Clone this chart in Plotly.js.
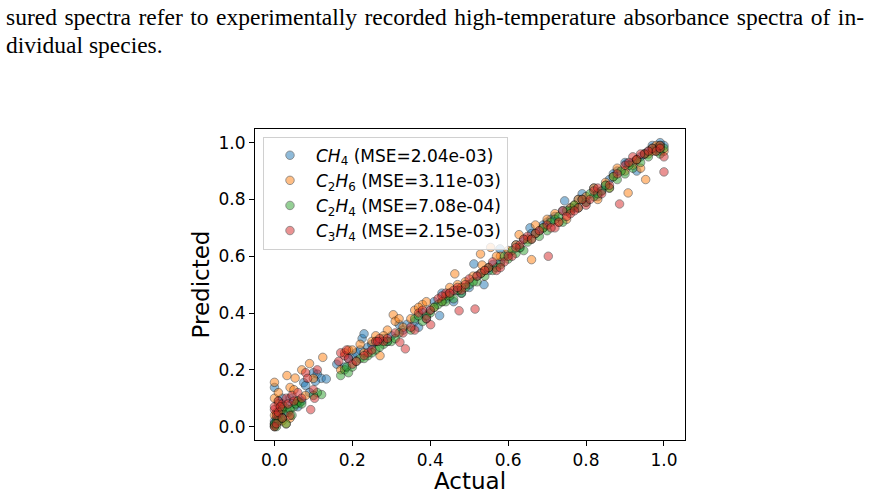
<!DOCTYPE html>
<html>
<head>
<meta charset="utf-8">
<script src="https://cdn.plot.ly/plotly-3.0.1.min.js"></script>
<style>
  html, body { margin: 0; padding: 0; background: #fff; }
  #chart { width: 876px; height: 494px; }
</style>
</head>
<body>
<div id="chart"></div>
<script>
// Actual vs. predicted mole fractions for each species
const ch4Actual = [0.0,0.0,0.005,0.01,0.015,0.02,0.03,0.045,0.06,0.075,0.08,0.1,0.11,0.12,0.133,0.105,
  0.16,0.18,0.2,0.21,0.225,0.23,0.24,0.26,0.28,0.3,0.32,0.33,0.36,0.37,0.38,0.4,0.424,0.43,0.44,0.46,0.48,
  0.5,0.512,0.538,0.55,0.579,0.6,0.62,0.64,0.656,0.68,0.7,0.72,0.745,0.76,0.78,0.8,0.82,0.84,0.86,0.88,
  0.904,0.92,0.94,0.96,0.98,1.0,0.99,
  0.0,0.01,0.02,0.04,0.07,0.09,0.19,0.22,0.25,0.27,0.29,0.34,0.39,0.41,0.45,0.47,0.52,0.56,0.58,0.63,
  0.66,0.69,0.71,0.74,0.77,0.79,0.83,0.85,0.87,0.9,0.93,0.95,0.97,0.99];
const ch4Pred = [0.138,0.01,0.03,0.09,0.06,0.1,0.05,0.08,0.07,0.155,0.145,0.19,0.185,0.17,0.168,0.16,
  0.22,0.21,0.25,0.26,0.31,0.327,0.28,0.3,0.31,0.32,0.36,0.34,0.37,0.35,0.4,0.41,0.391,0.47,0.45,0.44,0.47,
  0.49,0.573,0.5,0.55,0.626,0.61,0.64,0.66,0.7,0.69,0.72,0.74,0.795,0.77,0.8,0.79,0.84,0.83,0.87,0.9,
  0.926,0.93,0.95,0.97,0.98,0.99,0.97,
  0.02,0.04,0.07,0.1,0.09,0.12,0.24,0.27,0.29,0.3,0.3,0.36,0.38,0.44,0.47,0.48,0.53,0.57,0.58,0.63,
  0.68,0.71,0.73,0.76,0.77,0.82,0.81,0.85,0.89,0.93,0.9,0.96,0.99,1.0];

const c2h6Actual = [0.0,0.0,0.005,0.01,0.02,0.03,0.032,0.04,0.053,0.06,0.07,0.09,0.1,0.124,
  0.17,0.18,0.19,0.22,0.25,0.271,0.29,0.305,0.31,0.33,0.36,0.38,0.41,0.44,0.463,0.47,0.49,0.529,0.533,
  0.555,0.58,0.6,0.628,0.66,0.67,0.69,0.72,0.75,0.77,0.8,0.83,0.85,0.87,0.908,0.9,0.93,0.953,0.96,0.98,1.0,
  0.0,0.01,0.02,0.04,0.05,0.08,0.2,0.23,0.26,0.28,0.32,0.35,0.37,0.39,0.43,0.45,0.48,0.51,0.54,0.57,
  0.62,0.65,0.7,0.73,0.76,0.78,0.82,0.86,0.88,0.92,0.94,0.97,0.99];
const c2h6Pred = [0.156,0.1,0.05,0.08,0.02,0.01,0.18,0.138,0.171,0.09,0.2,0.222,0.17,0.244,
  0.2,0.26,0.27,0.29,0.3,0.25,0.34,0.394,0.371,0.35,0.41,0.43,0.42,0.46,0.538,0.5,0.51,0.608,0.569,
  0.631,0.6,0.62,0.676,0.588,0.71,0.7,0.75,0.73,0.78,0.81,0.8,0.86,0.88,0.823,0.9,0.94,0.87,0.96,0.99,0.97,
  0.04,0.12,0.06,0.03,0.13,0.11,0.27,0.26,0.32,0.32,0.38,0.38,0.42,0.44,0.44,0.49,0.49,0.53,0.55,0.6,
  0.64,0.66,0.73,0.72,0.77,0.8,0.84,0.84,0.91,0.92,0.91,0.97,0.98];

const c2h4Actual = [0.0,0.0,0.005,0.01,0.015,0.02,0.03,0.035,0.05,0.06,0.065,0.121,0.11,
  0.17,0.18,0.19,0.2,0.22,0.24,0.26,0.28,0.3,0.32,0.35,0.36,0.38,0.4,0.42,0.44,0.46,0.48,0.5,0.52,0.54,
  0.56,0.58,0.6,0.62,0.64,0.66,0.68,0.7,0.72,0.74,0.76,0.78,0.8,0.82,0.84,0.86,0.88,0.9,0.92,0.94,0.96,
  0.98,1.0,0.99,
  0.0,0.005,0.01,0.02,0.025,0.04,0.045,0.055,0.07,0.1,0.185,0.21,0.23,0.25,0.27,0.29,0.31,0.37,0.39,
  0.41,0.43,0.45,0.47,0.49,0.51,0.53,0.55,0.57,0.59,0.61,0.63,0.65,0.67,0.69,0.71,0.73,0.75,0.77,0.79,
  0.81,0.83,0.85,0.87,0.89,0.91,0.93,0.95,0.97,0.99];
const c2h4Pred = [0.0,0.005,0.02,0.04,0.03,0.06,0.01,0.05,0.07,0.09,0.085,0.113,0.12,
  0.18,0.2,0.19,0.21,0.24,0.25,0.27,0.29,0.3,0.33,0.34,0.38,0.37,0.4,0.43,0.44,0.45,0.47,0.5,0.51,0.53,
  0.55,0.57,0.59,0.61,0.62,0.66,0.67,0.69,0.73,0.72,0.76,0.77,0.79,0.81,0.83,0.84,0.87,0.89,0.91,0.93,0.95,
  0.97,0.98,0.96,
  0.01,0.0,0.02,0.03,0.07,0.06,0.04,0.08,0.08,0.11,0.21,0.23,0.24,0.26,0.28,0.3,0.31,0.39,0.39,
  0.42,0.44,0.46,0.48,0.49,0.51,0.54,0.56,0.56,0.6,0.62,0.63,0.65,0.68,0.7,0.72,0.74,0.76,0.78,0.8,
  0.82,0.82,0.85,0.88,0.9,0.92,0.94,0.96,0.98,0.99];

const c3h4Actual = [0.0,0.0,0.005,0.01,0.02,0.03,0.04,0.045,0.06,0.08,0.093,0.103,0.11,0.1,
  0.165,0.18,0.19,0.2,0.24,0.26,0.28,0.27,0.322,0.336,0.33,0.36,0.37,0.39,0.401,0.4,0.44,0.46,0.474,0.48,
  0.515,0.5,0.53,0.55,0.57,0.59,0.61,0.63,0.65,0.67,0.703,0.7,0.72,0.74,0.76,0.78,0.8,0.82,0.86,0.886,
  0.9,0.92,0.95,0.97,0.99,1.0,1.0,
  0.0,0.005,0.01,0.015,0.02,0.035,0.05,0.07,0.085,0.17,0.185,0.21,0.23,0.25,0.265,0.29,0.31,0.35,0.38,
  0.42,0.43,0.45,0.47,0.49,0.52,0.54,0.56,0.58,0.6,0.62,0.64,0.66,0.68,0.71,0.73,0.75,0.77,0.79,0.81,
  0.83,0.84,0.88,0.91,0.93,0.94,0.96,0.98,0.99];
const c3h4Pred = [0.06,0.07,0.04,0.09,0.08,0.1,0.04,0.11,0.12,0.19,0.06,0.1,0.2,0.13,
  0.23,0.25,0.24,0.22,0.26,0.3,0.3,0.31,0.297,0.274,0.33,0.34,0.4,0.38,0.359,0.41,0.47,0.48,0.408,0.48,
  0.414,0.52,0.54,0.56,0.55,0.58,0.6,0.64,0.67,0.68,0.6,0.71,0.7,0.76,0.75,0.77,0.78,0.83,0.85,0.784,
  0.92,0.95,0.96,0.98,0.99,0.897,0.95,
  0.0,0.01,0.05,0.07,0.03,0.08,0.09,0.1,0.17,0.26,0.27,0.23,0.25,0.27,0.3,0.31,0.33,0.35,0.41,
  0.45,0.46,0.47,0.49,0.5,0.53,0.55,0.58,0.56,0.6,0.63,0.66,0.66,0.69,0.7,0.72,0.74,0.76,0.8,0.8,
  0.84,0.82,0.89,0.93,0.94,0.96,0.97,0.97,0.98];

const seriesNames = [
  '<i>CH</i><sub>4</sub> (MSE=2.04e-03)',
  '<i>C</i><sub>2</sub><i>H</i><sub>6</sub> (MSE=3.11e-03)',
  '<i>C</i><sub>2</sub><i>H</i><sub>4</sub> (MSE=7.08e-04)',
  '<i>C</i><sub>3</sub><i>H</i><sub>4</sub> (MSE=2.15e-03)'
];
const seriesColors = ['#1f77b4', '#ff7f0e', '#2ca02c', '#d62728'];
const actualSets = [ch4Actual, c2h6Actual, c2h4Actual, c3h4Actual];
const predSets = [ch4Pred, c2h6Pred, c2h4Pred, c3h4Pred];

const tickValues = [0, 0.2, 0.4, 0.6, 0.8, 1.0];
const tickLabels = ['0.0', '0.2', '0.4', '0.6', '0.8', '1.0'];

const captionLine1 = 'sured spectra refer to experimentally recorded high-temperature absorbance spectra of in-';
const captionLine2 = 'dividual species.';

const traces = actualSets.map((xs, i) => ({
  type: 'scatter',
  mode: 'markers',
  x: xs,
  y: predSets[i],
  name: seriesNames[i],
  marker: {
    size: 8.5,
    color: seriesColors[i],
    opacity: 0.5,
    line: { color: '#000', width: 0.8 }
  },
  hoverinfo: 'skip'
}));

const plotL = 254.7, plotR = 685.3, plotT = 129.3, plotB = 440.3;
const W = 876, H = 494;
const pw = plotR - plotL, ph = plotB - plotT;
const px2paperX = p => (p - plotL) / pw;
const px2paperY = p => (plotB - p) / ph;

const sans = 'DejaVu Sans, sans-serif';
const serif = 'Liberation Serif, Times New Roman, serif';
const axisFont = { family: sans, size: 17, color: '#000' };
const titleFont = { family: sans, size: 23, color: '#000' };
const captionWidth = 858;

const layout = {
  width: W,
  height: H,
  margin: { l: plotL, r: W - plotR, t: plotT, b: H - plotB, pad: 0 },
  paper_bgcolor: '#fff',
  plot_bgcolor: '#fff',
  showlegend: true,
  legend: {
    x: px2paperX(262.7),
    y: px2paperY(137),
    xanchor: 'left',
    yanchor: 'top',
    bgcolor: 'rgba(255,255,255,0.8)',
    bordercolor: '#d0d0d0',
    borderwidth: 1,
    itemwidth: 42,
    font: { family: sans, size: 17, color: '#000' }
  },
  xaxis: {
    range: [-0.05, 1.054],
    tickvals: tickValues,
    ticktext: tickLabels,
    ticks: 'outside',
    ticklen: 5,
    tickwidth: 1,
    tickcolor: '#000',
    tickfont: axisFont,
    showline: true,
    mirror: true,
    linecolor: '#000',
    linewidth: 1,
    showgrid: false,
    zeroline: false,
    title: { text: 'Actual', font: titleFont, standoff: 2 }
  },
  yaxis: {
    range: [-0.047, 1.048],
    tickvals: tickValues,
    ticktext: tickLabels,
    ticks: 'outside',
    ticklen: 5,
    tickwidth: 1,
    tickcolor: '#000',
    tickfont: axisFont,
    showline: true,
    mirror: true,
    linecolor: '#000',
    linewidth: 1,
    showgrid: false,
    zeroline: false,
    title: { text: 'Predicted', font: titleFont, standoff: 2 }
  },
  annotations: [
    {
      text: captionLine1, xref: 'paper', yref: 'paper',
      x: px2paperX(3), y: px2paperY(2), xanchor: 'left', yanchor: 'top',
      showarrow: false, align: 'left',
      font: { family: serif, size: 23.5, color: '#000' }
    },
    {
      text: captionLine2, xref: 'paper', yref: 'paper',
      x: px2paperX(3), y: px2paperY(30), xanchor: 'left', yanchor: 'top',
      showarrow: false, align: 'left',
      font: { family: serif, size: 23.5, color: '#000' }
    }
  ]
};

Plotly.newPlot('chart', traces, layout, { displayModeBar: false, staticPlot: true }).then(gd => {
  // justify the first caption line by widening its word gaps
  const texts = gd.querySelectorAll('.annotation-text');
  if (texts.length) {
    const t = texts[0];
    const natural = t.getComputedTextLength();
    const gaps = (captionLine1.match(/ /g) || []).length;
    if (gaps && natural < captionWidth) {
      t.style.wordSpacing = ((captionWidth - natural) / gaps).toFixed(2) + 'px';
    }
  }
});
</script>
</body>
</html>
